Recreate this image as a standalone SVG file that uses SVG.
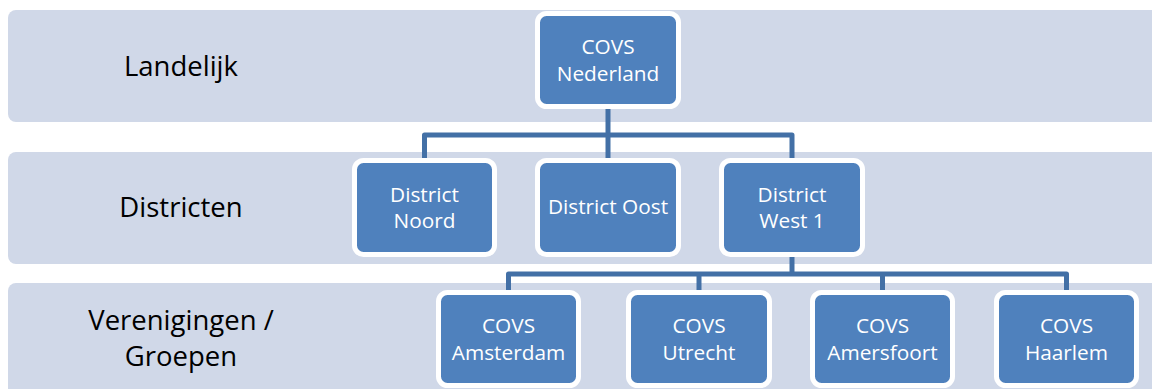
<svg xmlns="http://www.w3.org/2000/svg" width="1152" height="389" viewBox="0 0 1152 389">
<style>
.band{fill:#D0D8E8}
.lbl{font-family:"Open Sans","Liberation Sans",sans-serif;font-size:27.5px;fill:#000;text-anchor:middle}
.box{fill:#4F81BD;stroke:#FFFFFF;stroke-width:5}
.nt{font-family:"Open Sans","Liberation Sans",sans-serif;font-size:20.8px;fill:#FFFFFF;text-anchor:middle}
.con{fill:none;stroke:#4370A6;stroke-width:5;stroke-linejoin:round}
</style>
<rect width="1152" height="389" fill="#FFFFFF"/>
<g id="bands">
<rect class="band" x="8" y="10" width="1160" height="112" rx="8"/>
<rect class="band" x="8" y="152" width="1160" height="112" rx="8"/>
<rect class="band" x="8" y="283" width="1160" height="130" rx="8"/>
<text class="lbl" x="181" y="76">Landelijk</text>
<text class="lbl" x="181" y="217">Districten</text>
<text class="lbl" x="181" y="330">Verenigingen /</text>
<text class="lbl" x="181" y="366">Groepen</text>
</g>
<g id="connectors">
<path class="con" d="M608,108 V158"/>
<path class="con" d="M424.5,158 V135 H792 V158"/>
<path class="con" d="M792,256 V274"/>
<path class="con" d="M508.5,290 V274 H1066.5 V290"/>
<path class="con" d="M699,274 V290"/>
<path class="con" d="M882.5,274 V290"/>
</g>
<g id="n-nederland">
<rect class="box" x="537.5" y="13.5" width="141" height="93" rx="9"/>
<text class="nt" x="608" y="54">COVS</text>
<text class="nt" x="608" y="81">Nederland</text>
</g>
<g id="n-noord">
<rect class="box" x="354.5" y="160.5" width="140" height="94" rx="9"/>
<text class="nt" x="424.5" y="202">District</text>
<text class="nt" x="424.5" y="228">Noord</text>
</g>
<g id="n-oost">
<rect class="box" x="537.5" y="160.5" width="141" height="94" rx="9"/>
<text class="nt" x="608" y="214">District Oost</text>
</g>
<g id="n-west1">
<rect class="box" x="721.5" y="160.5" width="141" height="94" rx="9"/>
<text class="nt" x="792" y="202">District</text>
<text class="nt" x="792" y="228">West 1</text>
</g>
<g id="n-amsterdam">
<rect class="box" x="438.5" y="292.5" width="140" height="93" rx="9"/>
<text class="nt" x="508.5" y="333">COVS</text>
<text class="nt" x="508.5" y="360">Amsterdam</text>
</g>
<g id="n-utrecht">
<rect class="box" x="628.5" y="292.5" width="141" height="93" rx="9"/>
<text class="nt" x="699" y="333">COVS</text>
<text class="nt" x="699" y="360">Utrecht</text>
</g>
<g id="n-amersfoort">
<rect class="box" x="812.5" y="292.5" width="140" height="93" rx="9"/>
<text class="nt" x="882.5" y="333">COVS</text>
<text class="nt" x="882.5" y="360">Amersfoort</text>
</g>
<g id="n-haarlem">
<rect class="box" x="996.5" y="292.5" width="140" height="93" rx="9"/>
<text class="nt" x="1066.5" y="333">COVS</text>
<text class="nt" x="1066.5" y="360">Haarlem</text>
</g>
</svg>
